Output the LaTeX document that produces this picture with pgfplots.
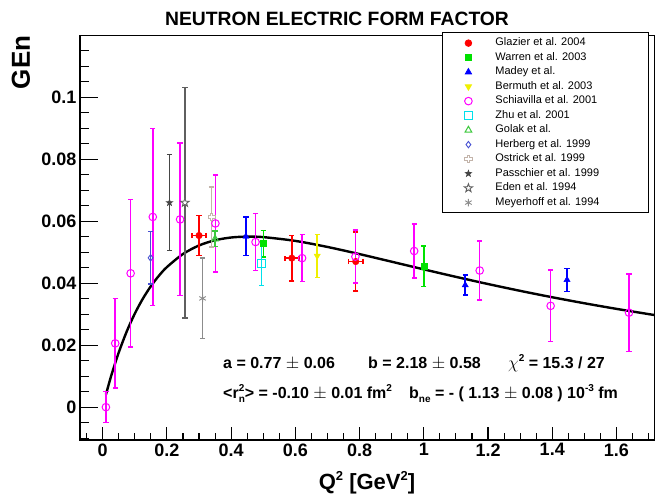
\documentclass[border=0pt]{standalone}
\usepackage{fontspec}
\setmainfont{Liberation Sans}
\usepackage{pgfplots}
\pgfplotsset{compat=1.18}
\usetikzlibrary{plotmarks}

\definecolor{rootred}{RGB}{255,0,0}
\definecolor{rootgreen}{RGB}{0,225,0}
\definecolor{rootblue}{RGB}{0,0,255}
\definecolor{rootyellow}{RGB}{240,240,0}
\definecolor{rootmag}{RGB}{255,0,255}
\definecolor{rootcyan}{RGB}{0,225,235}
\definecolor{golak}{RGB}{60,200,60}
\definecolor{herb}{RGB}{70,80,210}
\definecolor{ostr}{RGB}{195,180,170}
\definecolor{pass}{RGB}{70,70,70}
\definecolor{eden}{RGB}{95,95,95}
\definecolor{meyer}{RGB}{140,140,140}

\newcommand\sups[2]{\raisebox{0.45em}{\fontsize{#1}{#1}\selectfont #2}}
\newcommand\subs[2]{\raisebox{-0.28em}{\fontsize{#1}{#1}\selectfont #2}}

\pgfdeclareplotmark{ocross}{%
  \pgfpathmoveto{\pgfqpoint{-\pgfplotmarksize}{0.35\pgfplotmarksize}}%
  \pgfpathlineto{\pgfqpoint{-0.35\pgfplotmarksize}{0.35\pgfplotmarksize}}%
  \pgfpathlineto{\pgfqpoint{-0.35\pgfplotmarksize}{\pgfplotmarksize}}%
  \pgfpathlineto{\pgfqpoint{0.35\pgfplotmarksize}{\pgfplotmarksize}}%
  \pgfpathlineto{\pgfqpoint{0.35\pgfplotmarksize}{0.35\pgfplotmarksize}}%
  \pgfpathlineto{\pgfqpoint{\pgfplotmarksize}{0.35\pgfplotmarksize}}%
  \pgfpathlineto{\pgfqpoint{\pgfplotmarksize}{-0.35\pgfplotmarksize}}%
  \pgfpathlineto{\pgfqpoint{0.35\pgfplotmarksize}{-0.35\pgfplotmarksize}}%
  \pgfpathlineto{\pgfqpoint{0.35\pgfplotmarksize}{-\pgfplotmarksize}}%
  \pgfpathlineto{\pgfqpoint{-0.35\pgfplotmarksize}{-\pgfplotmarksize}}%
  \pgfpathlineto{\pgfqpoint{-0.35\pgfplotmarksize}{-0.35\pgfplotmarksize}}%
  \pgfpathlineto{\pgfqpoint{-\pgfplotmarksize}{-0.35\pgfplotmarksize}}%
  \pgfpathclose
  \pgfusepathqfillstroke
}
\pgfdeclareplotmark{pstar}{%
  \pgfpathmoveto{\pgfpointpolar{90}{\pgfplotmarksize}}%
  \pgfpathlineto{\pgfpointpolar{126}{0.4\pgfplotmarksize}}%
  \pgfpathlineto{\pgfpointpolar{162}{\pgfplotmarksize}}%
  \pgfpathlineto{\pgfpointpolar{198}{0.4\pgfplotmarksize}}%
  \pgfpathlineto{\pgfpointpolar{234}{\pgfplotmarksize}}%
  \pgfpathlineto{\pgfpointpolar{270}{0.4\pgfplotmarksize}}%
  \pgfpathlineto{\pgfpointpolar{306}{\pgfplotmarksize}}%
  \pgfpathlineto{\pgfpointpolar{342}{0.4\pgfplotmarksize}}%
  \pgfpathlineto{\pgfpointpolar{18}{\pgfplotmarksize}}%
  \pgfpathlineto{\pgfpointpolar{54}{0.4\pgfplotmarksize}}%
  \pgfpathclose
  \pgfusepathqfillstroke
}

\begin{document}
\begin{tikzpicture}
\begin{axis}[
  at={(80pt,57pt)}, anchor=south west,
  scale only axis, width=575pt, height=404.3pt,
  xmin=-0.0707, xmax=1.72, ymin=-0.0106, ymax=0.1199,
  axis line style={line width=1.2pt},
  tick pos=left, tick align=inside,
  xtick={-0.2,0,...,1.8}, ytick={-0.02,0,...,0.14},
  minor x tick num=3, minor y tick num=3,
  major tick length=13pt, minor tick length=6.5pt,
  ytick style={/pgfplots/major tick length=18pt, /pgfplots/minor tick length=9pt},
  every tick/.style={black, line width=1.1pt},
  scaled y ticks=false, scaled x ticks=false,
  /pgf/number format/assume math mode=true,
  tick label style={font=\bfseries\fontsize{18}{20}\selectfont},
  yticklabel style={/pgf/number format/.cd, fixed, precision=2},
  error bars/error bar style={line width=1.5pt},
  error bars/error mark options={rotate=90, mark size=2.6pt, line width=1.5pt},
  legend image code/.code={\path[draw=none, fill=none] (-26pt,0pt) -- (24pt,0pt); \draw[#1] plot coordinates {(0pt,0pt)};},
  legend cell align=left,
  legend style={at={(0.6296,1.008)}, anchor=north west, draw=black, line width=0.8pt,
    fill=white, inner xsep=0pt, inner ysep=3pt,
    font=\fontsize{11}{13}\selectfont,
    nodes={text height=8pt, text depth=3pt, inner ysep=1.75pt, inner xsep=3pt}},
]

% fit curve (Galster form, a=0.77, b=2.18)
\addplot[black, line width=2.4pt, smooth, forget plot] coordinates {
(0.01,0.004033) (0.02,0.007799) (0.03,0.011315) (0.05,0.017663) (0.075,0.024469)
(0.1,0.030197) (0.125,0.035010) (0.15,0.039045) (0.175,0.042416) (0.2,0.045218)
(0.25,0.049431) (0.3,0.052192) (0.35,0.053879) (0.4,0.054763) (0.45,0.055049)
(0.5,0.054888) (0.6,0.053662) (0.7,0.051710) (0.8,0.049399) (0.9,0.046944)
(1.0,0.044473) (1.1,0.042058) (1.2,0.039742) (1.3,0.037544) (1.4,0.035476)
(1.5,0.033537) (1.6,0.031726) (1.7,0.030036) (1.72,0.029712)
};

% Glazier
\addplot[only marks, color=rootred, mark=*, mark size=3.3pt,
  error bars/.cd, x dir=both, x explicit, y dir=both, y explicit]
  table[x=x, y=y, x error=ex, y error=ey]{
x y ex ey
0.300 0.0554 0.022 0.0065
0.589 0.0481 0.022 0.0073
0.788 0.0470 0.022 0.0095
};
\addlegendentry{\makebox[150pt][l]{Glazier et al. 2004}}

% Warren
\addplot[only marks, color=rootgreen, mark=square*, mark size=3pt,
  error bars/.cd, y dir=both, y explicit]
  table[x=x, y=y, y error=ey]{
x y ey
0.500 0.0528 0.0043
1.000 0.0455 0.0065
};
\addlegendentry{\makebox[150pt][l]{Warren et al. 2003}}

% Madey
\addplot[only marks, color=rootblue, mark=triangle*, mark size=3.6pt,
  error bars/.cd, y dir=both, y explicit]
  table[x=x, y=y, y error=ey]{
x y ey
0.446 0.0551 0.0062
1.129 0.0394 0.0032
1.446 0.0411 0.0037
};
\addlegendentry{\makebox[150pt][l]{Madey et al.}}

% Bermuth
\addplot[only marks, color=rootyellow, mark=triangle*, mark size=3.6pt, mark options={rotate=180},
  error bars/.cd, y dir=both, y explicit]
  table[x=x, y=y, y error=ey]{
x y ey
0.668 0.0488 0.0070
};
\addlegendentry{\makebox[150pt][l]{Bermuth et al. 2003}}

% Schiavilla
\addplot[only marks, color=rootmag, mark=o, mark size=3.8pt, mark options={fill=white, line width=1pt},
  error bars/.cd, y dir=both, y explicit]
  table[x=x, y=y, y error=ey]{
x y ey
0.010 0.0000 0.0050
0.039 0.0206 0.0144
0.087 0.0432 0.0238
0.156 0.0614 0.0286
0.241 0.0606 0.0246
0.351 0.0593 0.0156
0.476 0.0533 0.0092
0.621 0.0481 0.0076
0.787 0.0486 0.0086
0.970 0.0504 0.0087
1.174 0.0441 0.0095
1.395 0.0327 0.0115
1.639 0.0305 0.0125
};
\addlegendentry{\makebox[150pt][l]{Schiavilla et al. 2001}}

% Zhu
\addplot[only marks, color=rootcyan, mark=square, mark size=3.8pt, mark options={fill=white, line width=1pt},
  error bars/.cd, y dir=both, y explicit]
  table[x=x, y=y, y error=ey]{
x y ey
0.494 0.0464 0.0071
};
\addlegendentry{\makebox[150pt][l]{Zhu et al. 2001}}

% Golak
\addplot[only marks, color=golak, mark=triangle, mark size=3.8pt, mark options={fill=white, line width=1pt},
  error bars/.cd, y dir=both, y explicit]
  table[x=x, y=y, y error=ey]{
x y ey
0.350 0.0543 0.0025
};
\addlegendentry{\makebox[150pt][l]{Golak et al.}}

% Herberg
\addplot[only marks, color=herb, mark=diamond, mark size=3.2pt, mark options={fill=white, line width=0.9pt},
  error bars/.cd, y dir=both, y explicit]
  table[x=x, y=y, y error=ey]{
x y ey
0.149 0.0482 0.0085
};
\addlegendentry{\makebox[150pt][l]{Herberg et al. 1999}}

% Ostrick
\addplot[only marks, color=ostr, mark=ocross, mark size=3.6pt, mark options={fill=white, line width=0.9pt},
  error bars/.cd, y dir=both, y explicit]
  table[x=x, y=y, y error=ey]{
x y ey
0.339 0.0614 0.0097
};
\addlegendentry{\makebox[150pt][l]{Ostrick et al. 1999}}

% Passchier
\addplot[only marks, color=pass, mark=pstar, mark size=3.4pt, mark options={fill=pass, line width=0.6pt},
  error bars/.cd, y dir=both, y explicit]
  table[x=x, y=y, y error=ey]{
x y ey
0.208 0.0660 0.0155
};
\addlegendentry{\makebox[150pt][l]{Passchier et al. 1999}}

% Eden
\addplot[only marks, color=eden, mark=pstar, mark size=4.4pt, mark options={fill=white, line width=0.9pt},
  error bars/.cd, y dir=both, y explicit]
  table[x=x, y=y, y error=ey]{
x y ey
0.256 0.0660 0.0372
};
\addlegendentry{\makebox[150pt][l]{Eden et al. 1994}}

% Meyerhoff
\addplot[only marks, color=meyer, mark=asterisk, mark size=3.8pt, mark options={line width=0.9pt},
  error bars/.cd, y dir=both, y explicit]
  table[x=x, y=y, y error=ey]{
x y ey
0.311 0.0351 0.0130
};
\addlegendentry{\makebox[150pt][l]{Meyerhoff et al. 1994}}

\end{axis}

\node[anchor=base, font=\bfseries\fontsize{19.3}{22}\selectfont] at (337pt,471pt) {NEUTRON ELECTRIC FORM FACTOR};
\node[rotate=90, anchor=center, font=\bfseries\fontsize{26}{30}\selectfont] at (21pt,434.5pt) {GEn};
\node[anchor=base, font=\bfseries\fontsize{22}{26}\selectfont] at (367pt,7pt) {Q\sups{13}{2} [GeV\sups{13}{2}]};

\begin{scope}[every node/.style={anchor=base west, inner sep=0pt, font=\bfseries\fontsize{16}{19}\selectfont}]
\node at (223pt,128.7pt) {a = 0.77 $\pm$ 0.06};
\node at (368pt,128.7pt) {b = 2.18 $\pm$ 0.58};
\node at (508pt,128.7pt) {$\chi$\sups{10}{2} = 15.3 / 27};
\node at (223pt,98.7pt) {<r\rlap{\sups{10}{2}}\subs{10}{n}> = -0.10 $\pm$ 0.01 fm\sups{10}{2}};
\node at (409pt,98.7pt) {b\subs{10}{ne} = - ( 1.13 $\pm$ 0.08 ) 10\sups{10}{-3} fm};
\end{scope}

\pgfresetboundingbox
\useasboundingbox (0pt,0pt) rectangle (655pt,497pt);
\end{tikzpicture}
\end{document}
